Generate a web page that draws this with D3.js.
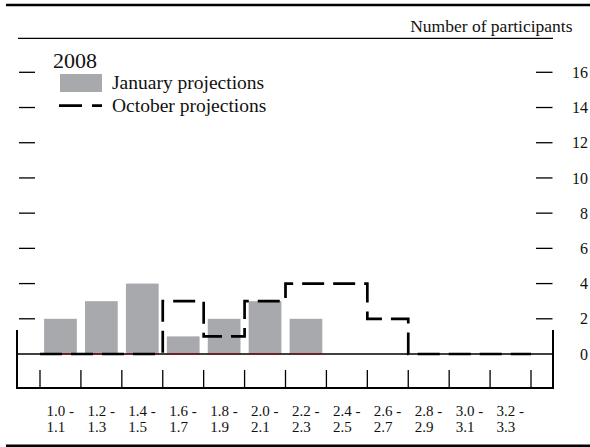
<!DOCTYPE html>
<html>
<head>
<meta charset="utf-8">
<script src="https://cdn.jsdelivr.net/npm/d3@7"></script>
<style>
  html, body { margin: 0; padding: 0; background: #fff; }
  svg { display: block; }
  text { font-family: "Liberation Serif", "Times New Roman", serif; fill: #111; }
</style>
</head>
<body>
<svg id="chart" width="590" height="447"></svg>
<script>
// ---- Data ----
const categoriesTop = ["1.0 -", "1.2 -", "1.4 -", "1.6 -", "1.8 -", "2.0 -", "2.2 -", "2.4 -", "2.6 -", "2.8 -", "3.0 -", "3.2 -"];
const categoriesBottom = ["1.1", "1.3", "1.5", "1.7", "1.9", "2.1", "2.3", "2.5", "2.7", "2.9", "3.1", "3.3"];
const januaryValues = [2, 3, 4, 1, 2, 3, 2, 0, 0, 0, 0, 0];
const octoberValues = [0, 0, 0, 3, 1, 3, 4, 4, 2, 0, 0, 0];
const yTicks = [0, 2, 4, 6, 8, 10, 12, 14, 16];
const yearLabel = "2008";
const legendLabels = ["January projections", "October projections"];
const unitLabel = "Number of participants";

// ---- Scales ----
const svg = d3.select("#chart");
const x = d3.scaleBand().domain(categoriesTop).range([40, 531]).paddingInner(0).paddingOuter(0);
const y = d3.scaleLinear().domain([0, 16]).range([354, 72.3]);
const axisLeftX = 17, axisRightX = 553, axisBottomY = 388;

// ---- Frame lines ----
svg.append("line").attr("x1", 6).attr("x2", 590).attr("y1", 5).attr("y2", 5)
  .attr("stroke", "#000").attr("stroke-width", 2.5);
svg.append("line").attr("x1", 18).attr("x2", 553).attr("y1", 38.3).attr("y2", 38.3)
  .attr("stroke", "#000").attr("stroke-width", 1.3);
svg.append("line").attr("x1", 6).attr("x2", 590).attr("y1", 445.8).attr("y2", 445.8)
  .attr("stroke", "#000").attr("stroke-width", 2.5);

svg.append("text").attr("x", 572.5).attr("y", 31.5).attr("text-anchor", "end")
  .style("font-size", "17.5px").text(unitLabel);

// ---- Y ticks (left: marks only; right: marks + labels) ----
const tickVals = yTicks.filter(d => d > 0);
svg.append("g").selectAll("line").data(tickVals).join("line")
  .attr("x1", 19).attr("x2", 35).attr("y1", d => y(d)).attr("y2", d => y(d))
  .attr("stroke", "#000").attr("stroke-width", 1.3);
svg.append("g").selectAll("line").data(tickVals).join("line")
  .attr("x1", 536).attr("x2", 552.5).attr("y1", d => y(d)).attr("y2", d => y(d))
  .attr("stroke", "#000").attr("stroke-width", 1.3);
svg.append("g").selectAll("text").data(yTicks).join("text")
  .attr("x", 588).attr("y", d => y(d)).attr("dy", "0.35em").attr("text-anchor", "end")
  .style("font-size", "16px").text(d => d);

// ---- Bars ----
const barW = x.bandwidth() * 0.8;
svg.append("g").selectAll("rect").data(categoriesTop.map((c, i) => ({c, v: januaryValues[i]})).filter(d => d.v > 0))
  .join("rect")
  .attr("x", d => x(d.c) + (x.bandwidth() - barW) / 2)
  .attr("width", barW)
  .attr("y", d => y(d.v))
  .attr("height", d => y(0) - y(d.v))
  .attr("fill", "#a7a9ac");

// ---- Axis lines ----
svg.append("line").attr("x1", axisLeftX).attr("x2", axisRightX).attr("y1", y(0)).attr("y2", y(0))
  .attr("stroke", "#000").attr("stroke-width", 1.3);
// dark red baseline under bars
svg.append("g").selectAll("line").data(categoriesTop.filter((c, i) => januaryValues[i] > 0)).join("line")
  .attr("x1", d => x(d) + (x.bandwidth() - barW) / 2)
  .attr("x2", d => x(d) + (x.bandwidth() + barW) / 2)
  .attr("y1", y(0)).attr("y2", y(0))
  .attr("stroke", "#7a2020").attr("stroke-width", 1.3);
svg.append("line").attr("x1", axisLeftX).attr("x2", axisLeftX).attr("y1", 330).attr("y2", axisBottomY + 1)
  .attr("stroke", "#000").attr("stroke-width", 2);
svg.append("line").attr("x1", axisRightX).attr("x2", axisRightX).attr("y1", 330).attr("y2", axisBottomY + 1)
  .attr("stroke", "#000").attr("stroke-width", 2);
svg.append("line").attr("x1", axisLeftX).attr("x2", axisRightX).attr("y1", axisBottomY).attr("y2", axisBottomY)
  .attr("stroke", "#000").attr("stroke-width", 2);

// category boundary ticks
const boundaries = categoriesTop.map(c => x(c)).concat([x(categoriesTop[categoriesTop.length - 1]) + x.bandwidth()]);
svg.append("g").selectAll("line").data(boundaries).join("line")
  .attr("x1", d => d).attr("x2", d => d).attr("y1", 370).attr("y2", axisBottomY)
  .attr("stroke", "#000").attr("stroke-width", 1.3);

// ---- October step line ----
const stepPts = octoberValues.map((v, i) => [x(categoriesTop[i]), y(v)]);
stepPts.push([boundaries[boundaries.length - 1], y(octoberValues[octoberValues.length - 1])]);
svg.append("path")
  .attr("d", d3.line().curve(d3.curveStepAfter)(stepPts))
  .attr("fill", "none").attr("stroke", "#000").attr("stroke-width", 2.7)
  .attr("stroke-dasharray", "22,9");

// ---- X labels ----
const xl = svg.append("g");
xl.selectAll("text.top").data(categoriesTop).join("text").attr("class", "top")
  .attr("x", d => x(d) + x.bandwidth() / 2 - 14).attr("y", 415.5)
  .style("font-size", "15px").text(d => d);
xl.selectAll("text.bot").data(categoriesBottom).join("text").attr("class", "bot")
  .attr("x", (d, i) => x(categoriesTop[i]) + x.bandwidth() / 2 - 14).attr("y", 431.5)
  .style("font-size", "15px").text(d => d);

// ---- Legend ----
svg.append("text").attr("x", 53).attr("y", 68).style("font-size", "22px").text(yearLabel);
svg.append("rect").attr("x", 60).attr("y", 74).attr("width", 42).attr("height", 18).attr("fill", "#a7a9ac");
svg.append("line").attr("x1", 59).attr("x2", 102).attr("y1", 105.7).attr("y2", 105.7)
  .attr("stroke", "#000").attr("stroke-width", 2.7).attr("stroke-dasharray", "23,10");
svg.append("text").attr("x", 112).attr("y", 89).style("font-size", "19.5px").text(legendLabels[0]);
svg.append("text").attr("x", 112).attr("y", 111.5).style("font-size", "19.5px").text(legendLabels[1]);
</script>
</body>
</html>
